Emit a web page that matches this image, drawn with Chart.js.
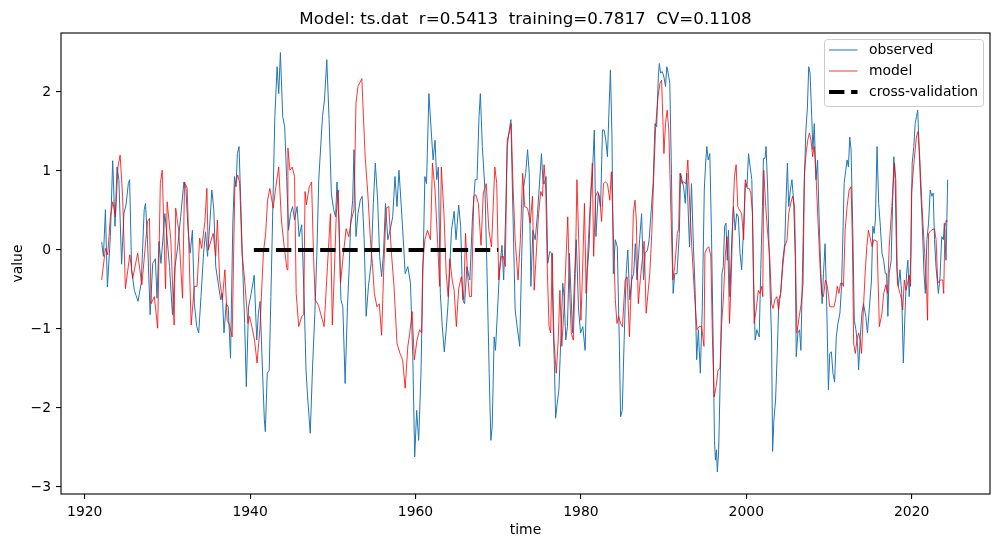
<!DOCTYPE html>
<html>
<head>
<meta charset="utf-8">
<script src="https://cdn.jsdelivr.net/npm/chart.js@4.4.1/dist/chart.umd.min.js"></script>
<style>
html, body { margin: 0; padding: 0; background: #fff; }
canvas { display: block; }
</style>
</head>
<body>
<canvas id="chart" width="999" height="547"></canvas>
<script>
// Observed series (time in decimal years, value)
const obsT = [
  1922.05,1922.26,1922.50,1922.74,1923.10,1923.38,1923.66,1923.90,1924.13,1924.46,
  1924.74,1924.99,1925.27,1925.43,1925.67,1926.00,1926.44,1926.83,1927.19,1927.35,
  1927.59,1927.91,1928.22,1928.54,1928.74,1928.98,1929.22,1929.69,1929.93,1930.25,
  1930.61,1930.92,1931.24,1931.60,1931.99,1932.23,1932.47,1932.75,1933.02,1933.26,
  1933.54,1933.78,1934.06,1934.37,1934.61,1934.85,
  1935.13,1935.37,1935.61,1935.84,1936.08,1936.44,1936.64,1936.84,1937.11,1937.35,
  1937.63,1937.91,1938.11,1938.30,1938.46,1938.66,1938.86,1939.10,1939.34,1939.54,
  1939.81,1940.13,1940.49,1940.80,1941.00,1941.20,1941.48,1941.72,1941.84,1942.07,
  1942.31,1942.51,1942.75,1942.99,1943.26,1943.46,1943.66,1943.94,1944.18,1944.41,
  1944.65,1944.89,1945.13,1945.37,1945.68,1945.92,1946.24,1946.56,1946.76,1946.95,
  1947.27,1947.55,1947.83,1948.07,1948.30,
  1948.75,1948.99,1949.27,1949.55,1949.82,1950.10,1950.34,1950.50,1950.74,1950.98,
  1951.21,1951.49,1951.77,1951.97,1952.16,1952.40,1952.56,1952.80,1953.04,1953.32,
  1953.55,1953.79,1954.03,1954.31,1954.63,1954.90,1955.14,1955.42,1955.66,1955.90,
  1956.13,1956.37,1956.65,1956.93,1957.24,1957.52,1957.76,1958.00,1958.28,1958.52,
  1958.75,1959.07,1959.39,1959.67,1959.90,1960.14,1960.38,1960.66,1960.89,1961.13,
  1961.33,1961.62,
  1961.97,1962.13,1962.36,1962.56,1962.76,1963.00,1963.24,1963.48,1963.71,1963.91,
  1964.11,1964.35,1964.67,1964.90,1965.22,1965.46,1965.70,1965.94,1966.21,1966.57,
  1966.89,1967.21,1967.44,1967.68,1967.84,1968.08,1968.40,1968.63,1968.91,1969.11,
  1969.27,1969.51,1969.67,1969.90,1970.18,1970.46,1970.66,1970.86,1971.09,1971.29,
  1971.53,1971.81,1972.05,1972.29,1972.60,1972.84,1973.08,1973.32,1973.55,1973.75,
  1973.95,1974.19,1974.47,1974.75,
  1975.23,1975.43,1975.59,1975.79,1975.99,1976.23,1976.46,1976.66,1976.82,1976.94,
  1977.14,1977.34,1977.57,1977.81,1977.97,1978.17,1978.37,1978.61,1978.80,1979.00,
  1979.24,1979.44,1979.72,1979.96,1980.23,1980.51,1980.75,1980.99,1981.23,1981.38,
  1981.62,1981.82,1982.10,1982.38,1982.61,1982.81,1983.01,1983.21,1983.41,1983.57,
  1983.76,1983.92,1984.16,1984.40,1984.64,1984.80,1985.00,1985.23,1985.47,1985.67,
  1985.91,1986.15,1986.38,1986.58,1986.78,1987.10,1987.34,1987.57,1987.77,1988.05,
  1988.25,
  1988.73,1988.96,1989.16,1989.36,1989.48,1989.64,1989.84,1990.04,1990.23,1990.39,
  1990.55,1990.75,1990.95,1991.15,1991.35,1991.62,1991.90,1992.06,1992.22,1992.42,
  1992.62,1992.81,1993.13,1993.37,1993.61,1993.81,1994.00,1994.20,1994.44,1994.68,
  1994.92,1995.08,1995.23,1995.39,1995.59,1995.79,1995.99,1996.15,1996.27,1996.39,
  1996.50,1996.66,1996.86,1997.06,1997.22,1997.38,1997.54,1997.70,1997.85,1998.01,
  1998.25,1998.45,1998.65,1998.84,1999.04,1999.24,1999.44,1999.68,1999.88,2000.08,
  2000.27,2000.47,2000.67,2000.87,2001.07,2001.27,
  2001.56,2001.75,2001.95,2002.07,2002.27,2002.39,2002.59,2002.75,2002.91,2003.06,
  2003.18,2003.34,2003.54,2003.74,2003.94,2004.17,2004.41,2004.65,2004.81,2004.97,
  2005.13,2005.33,2005.52,2005.72,2005.92,2006.04,2006.24,2006.44,2006.60,2006.79,
  2006.99,2007.19,2007.39,2007.55,2007.71,2007.91,2008.06,2008.22,2008.42,2008.62,
  2008.82,2009.02,2009.17,2009.33,2009.53,2009.73,2009.93,2010.09,2010.29,2010.48,
  2010.68,2010.88,2011.08,2011.32,2011.52,2011.71,2011.83,2012.03,2012.19,2012.35,
  2012.51,2012.67,2012.87,2013.06,2013.26,2013.46,2013.58,2013.78,2013.98,2014.17,
  2014.45,2014.65,
  2015.14,2015.30,2015.46,2015.61,2015.81,2016.01,2016.21,2016.41,2016.61,2016.81,
  2016.96,2017.12,2017.28,2017.52,2017.68,2017.84,2018.00,2018.19,2018.39,2018.59,
  2018.79,2018.99,2019.19,2019.38,2019.54,2019.70,2019.90,2020.06,2020.26,2020.42,
  2020.58,2020.73,2020.89,2021.09,2021.29,2021.49,2021.65,2021.84,2022.04,2022.24,
  2022.44,2022.60,2022.76,2022.94,2023.23,2023.43,2023.63,2023.83,2023.95,2024.15,
  2024.35
];
const obsV = [
  0.10,-0.08,0.51,-0.47,0.17,1.13,0.30,1.05,0.89,-0.18,
  0.46,0.57,0.84,0.89,-0.25,-0.51,-0.65,-0.42,0.51,0.59,
  0.13,-0.82,-0.17,-0.11,-0.61,0.11,-0.17,0.46,0.19,-0.21,
  -0.82,-0.21,0.04,0.42,0.86,0.78,0.30,-0.04,0.25,-0.68,
  -0.97,-1.05,-0.59,-0.04,0.23,-0.08,
  0.34,0.76,0.51,-0.21,-0.38,-0.63,-0.55,-1.05,-0.68,-0.72,
  -1.37,0.34,0.93,0.80,1.22,1.31,0.63,-0.21,-0.93,-1.73,
  -0.72,-0.55,-0.32,-1.14,-0.80,-0.65,-1.48,-2.15,-2.30,-1.56,
  -1.52,-0.59,0.55,1.69,2.32,1.98,2.50,1.69,1.56,0.93,
  0.25,0.46,0.55,0.38,0.55,0.17,0.32,-0.72,-1.52,-1.86,
  -2.32,-1.48,-0.80,-0.04,0.89,
  1.69,1.90,2.41,1.65,0.72,0.51,0.42,0.86,0.34,-0.63,
  -0.72,-1.69,-0.72,-0.25,0.34,0.63,1.27,0.17,0.46,0.63,
  0.68,0.13,-0.84,-0.46,-0.17,0.59,1.10,0.63,-0.08,-0.34,
  -0.04,0.59,0.13,0.25,0.42,0.93,0.55,1.01,0.55,0.13,
  -0.30,-0.21,-0.42,-1.35,-2.62,-2.03,-2.41,-1.56,-0.30,0.93,
  0.84,1.98,
  1.39,1.14,1.39,0.89,1.05,-0.55,-0.97,-1.29,-1.01,-0.72,
  -0.30,0.25,0.49,0.13,0.57,0.30,-0.63,-0.68,-0.21,-0.38,
  0.42,0.89,0.89,1.69,1.98,1.31,0.76,-0.21,-1.56,-2.41,
  -2.24,-1.10,-1.27,-0.80,-0.21,0.06,-0.38,0.30,1.31,1.48,
  1.65,0.34,-0.76,-0.97,-1.22,-0.08,0.80,0.97,1.27,0.97,
  -0.46,0.25,0.13,0.46,
  1.22,0.84,0.84,0.93,-0.17,-0.02,-0.04,-0.97,-1.56,-2.13,
  -1.94,-1.77,-1.14,-0.42,-0.59,-1.14,-0.97,-0.04,-0.55,-1.05,
  -0.30,0.13,-0.76,-1.05,-0.97,-1.27,-0.30,0.04,0.76,0.93,
  1.52,0.17,0.72,0.55,1.52,1.52,1.39,1.18,1.81,2.28,
  1.43,-0.30,0.13,0.04,-1.14,-2.11,-2.03,-1.14,-0.30,0.00,
  -0.63,-0.38,-0.30,0.08,-0.38,0.13,0.46,-0.38,-0.04,0.00,
  0.13,
  0.84,1.60,1.56,2.19,2.36,2.24,2.26,2.19,2.07,2.32,
  2.24,2.11,0.97,-0.55,-0.30,-0.30,0.21,0.97,0.89,0.80,
  0.59,0.97,0.04,0.84,0.04,-0.51,-1.39,-1.01,-1.56,-0.72,
  0.76,1.10,1.31,1.14,1.22,0.21,-1.14,-2.41,-2.66,-2.53,
  -2.81,-2.53,-1.56,-0.30,-0.21,0.30,0.34,-0.13,0.25,-0.59,
  0.13,0.55,0.25,0.46,0.42,-0.04,-0.25,0.30,0.84,0.80,
  1.22,1.05,0.89,-0.30,-1.14,-1.01,
  -1.10,-0.25,0.55,1.16,1.16,1.31,0.76,0.04,-0.63,-1.14,
  -2.55,-2.15,-1.90,-1.31,-0.63,-0.55,-0.13,0.08,0.63,1.10,
  0.55,0.76,0.89,0.63,-0.08,-1.35,-1.05,-1.01,-1.27,-0.30,
  0.76,1.48,1.81,2.32,2.24,1.69,1.27,1.60,0.89,1.14,
  0.34,-0.30,-0.68,-0.30,0.08,-0.72,-1.77,-1.31,-1.29,-1.56,
  -1.67,-1.10,-0.93,-0.80,-0.46,0.30,0.84,1.01,1.14,1.05,
  1.43,1.27,0.30,-0.89,-1.01,-1.22,-1.52,-1.10,-0.80,-0.68,
  -0.84,-1.05,
  -0.38,0.30,0.21,0.38,1.31,0.59,0.30,-0.04,-0.13,-0.30,
  -0.30,-0.84,-0.30,-0.13,0.55,1.18,0.89,-0.21,-0.46,-0.25,
  -0.55,-1.43,-0.80,-0.30,-0.13,-0.59,-0.08,1.10,1.31,1.60,
  1.69,1.77,1.31,0.76,0.30,-0.30,-0.55,0.13,0.34,0.76,
  0.68,0.72,0.13,-0.21,-0.55,-0.34,0.17,0.13,0.34,-0.13,
  0.89
];

// Model series
const modT = [
  1922.05,1922.50,1922.78,1923.10,1923.40,1923.72,1924.01,1924.28,1924.58,1924.92,
  1925.45,1925.80,1926.40,1926.91,1927.59,1927.83,1928.02,1928.42,1928.82,1929.14,
  1929.37,1929.77,1929.97,1930.41,1930.81,1931.00,1931.36,1931.83,1932.07,1932.39,
  1932.87,1933.26,1933.58,1933.90,1934.14,1934.53,1934.77,1934.93,
  1935.53,1935.84,1936.04,1936.32,1936.64,1936.95,1937.23,1937.51,1937.83,1938.15,
  1938.50,1938.74,1939.02,1939.34,1939.73,1939.93,1940.21,1940.53,1940.84,1941.20,
  1941.60,1941.88,1942.11,1942.39,1942.79,1943.11,1943.46,1943.78,1944.10,1944.46,
  1944.57,1944.81,1945.09,1945.37,1945.57,1945.88,1946.24,1946.48,1946.64,1946.80,
  1947.15,1947.43,1947.67,1947.87,1948.26,
  1948.95,1949.35,1949.71,1949.94,1950.18,1950.42,1950.66,1950.93,1951.25,1951.61,
  1951.93,1952.24,1952.56,1952.80,1953.04,1953.51,1953.91,1954.23,1954.55,1954.78,
  1955.02,1955.34,1955.62,1955.90,1956.17,1956.45,1956.77,1957.09,1957.40,1957.76,
  1958.12,1958.44,1958.75,1959.07,1959.31,1959.59,1959.86,1960.18,1960.50,1960.74,
  1960.86,1961.13,1961.45,
  1961.81,1962.05,1962.36,1962.68,1962.92,1963.12,1963.44,1963.71,1963.95,1964.15,
  1964.43,1964.67,1964.94,1965.22,1965.54,1965.82,1966.05,1966.29,1966.53,1966.77,
  1967.05,1967.29,1967.60,1967.92,1968.20,1968.55,1968.87,1969.19,1969.59,1969.82,
  1970.06,1970.38,1970.62,1970.86,1971.09,1971.41,1971.57,1971.81,1972.05,1972.40,
  1972.68,1972.96,1973.20,1973.55,1973.87,1974.15,1974.35,
  1974.88,1975.15,1975.35,1975.55,1975.75,1975.95,1976.15,1976.34,1976.54,1976.74,
  1977.02,1977.26,1977.46,1977.69,1977.97,1978.21,1978.41,1978.65,1978.84,1979.08,
  1979.32,1979.52,1979.76,1980.00,1980.19,1980.43,1980.63,1980.91,1981.15,1981.38,
  1981.54,1981.78,1982.02,1982.26,1982.50,1982.73,1982.97,1983.21,1983.49,1983.69,
  1983.92,1984.16,1984.36,1984.56,1984.80,1985.03,1985.35,1985.59,1985.87,1986.15,
  1986.34,1986.54,1986.70,1986.94,1987.18,1987.42,1987.65,1987.89,
  1988.33,1988.57,1988.85,1989.04,1989.32,1989.56,1989.76,1990.04,1990.23,1990.43,
  1990.63,1990.87,1991.11,1991.35,1991.66,1991.82,1991.98,1992.22,1992.42,1992.70,
  1992.93,1993.17,1993.41,1993.73,1994.04,1994.28,1994.60,1994.88,1995.00,1995.23,
  1995.47,1995.71,1995.91,1996.11,1996.35,1996.58,1996.82,1997.02,1997.22,1997.46,
  1997.66,1997.81,1997.97,1998.17,1998.37,1998.57,1998.77,1998.97,1999.16,1999.44,
  1999.68,1999.88,2000.12,2000.35,2000.55,2000.75,2000.95,2001.19,2001.46,
  2001.64,2001.87,2001.99,2002.11,2002.35,2002.59,2002.83,2003.06,2003.22,2003.46,
  2003.70,2003.90,2004.14,2004.41,2004.65,2004.93,2005.13,2005.37,2005.60,2005.84,
  2006.12,2006.40,2006.64,2006.87,2007.03,2007.23,2007.43,2007.63,2007.83,2008.02,
  2008.22,2008.42,2008.70,2008.94,2009.10,2009.33,2009.57,2009.81,2010.09,2010.37,
  2010.60,2010.80,2011.00,2011.20,2011.40,2011.60,2011.75,2011.95,2012.19,2012.43,
  2012.67,2012.83,2012.98,2013.18,2013.38,2013.58,2013.78,2013.94,2014.17,2014.37,
  2014.57,2014.77,
  2015.22,2015.42,2015.81,2016.09,2016.41,2016.61,2016.89,2017.08,2017.28,2017.60,
  2017.92,2018.08,2018.27,2018.59,2018.79,2018.91,2019.11,2019.31,2019.50,2019.70,
  2019.86,2019.98,2020.30,2020.57,2020.77,2020.97,2021.25,2021.57,2021.81,2021.92,
  2022.04,2022.36,2022.75,2022.95,2023.15,2023.47,2023.75,2023.87,2024.03,2024.19,
  2024.35
];
const modV = [
  -0.38,0.02,-0.06,0.42,0.61,0.42,1.05,1.20,0.68,-0.49,
  -0.06,-0.36,-0.04,-0.44,0.36,0.40,-0.68,-0.59,-0.99,0.84,
  1.01,-0.49,0.61,0.13,-0.95,0.53,0.25,-0.61,0.86,0.78,
  -0.95,-0.46,-0.46,0.15,0.02,0.36,0.78,0.00,
  0.21,-0.08,0.38,-0.38,-0.63,-0.25,-0.89,-0.95,-1.10,0.80,
  0.95,0.84,-0.04,-0.38,-0.93,-0.84,-0.97,-1.14,-1.43,-0.97,
  -0.04,0.21,0.63,0.78,0.53,0.80,1.05,0.38,0.06,-0.25,
  1.29,1.01,1.05,0.93,-0.55,-0.97,-0.84,-0.82,0.74,0.57,
  0.80,0.86,-0.08,-0.63,-0.70,
  -0.97,-0.21,0.46,-0.95,-0.30,0.46,0.76,-0.42,-0.08,0.27,
  0.17,0.38,0.51,1.86,2.07,2.17,1.18,0.72,0.13,-0.17,
  -0.55,-0.72,-0.68,-1.08,-0.21,0.53,0.55,-0.04,-0.46,-1.18,
  -1.31,-1.39,-1.75,-1.22,-1.05,-0.78,-1.39,-1.14,-1.01,-1.05,
  -0.21,0.13,0.25,
  0.13,1.10,0.76,0.08,-0.46,1.05,0.46,-0.30,-0.59,-0.11,
  -0.38,-0.51,-0.97,-0.49,-0.34,-0.63,0.21,-0.30,-0.59,-0.59,
  0.68,0.70,0.59,0.06,0.72,0.84,0.25,0.04,1.05,0.84,
  -0.38,-0.08,-0.08,-0.21,1.39,1.52,1.60,0.76,0.13,-0.38,
  0.13,0.97,0.55,0.53,0.34,0.68,-0.51,
  0.46,0.74,0.68,1.08,0.76,-0.30,-0.97,-1.05,-0.04,-1.14,
  -1.56,-1.14,-0.51,-1.22,-0.72,-0.08,0.42,-0.55,-1.05,-1.14,
  -0.30,0.89,0.04,-0.89,-0.30,0.59,-0.55,0.13,0.63,1.10,
  -0.08,0.68,0.74,0.68,0.36,0.84,0.86,0.84,0.63,0.99,
  0.21,-0.63,-0.93,-0.84,-0.93,-0.97,-0.38,-0.34,-1.10,-0.30,
  0.46,0.63,0.38,-0.68,-0.38,-0.13,0.11,-0.80,
  -0.30,0.21,1.05,1.56,1.94,2.11,2.15,1.22,1.60,1.77,
  1.52,0.55,-0.38,-0.21,0.21,0.27,0.97,0.84,0.86,0.84,
  1.14,0.55,0.04,-0.55,-1.01,-0.97,-0.97,-1.22,-0.04,0.02,
  0.04,-0.08,-1.14,-1.86,-1.73,-1.52,-1.50,-0.93,-0.63,-0.08,
  0.17,-0.13,-0.93,-0.38,0.42,0.93,1.08,0.55,0.51,0.46,
  0.13,0.89,0.78,0.78,0.72,0.46,-0.93,-0.76,-0.51,
  -0.55,-0.46,-0.59,1.01,0.55,0.21,-0.08,-0.68,-0.74,-0.63,
  -0.59,-0.76,-0.55,-0.21,0.04,0.13,0.46,0.59,0.68,0.55,
  -1.05,-0.84,-0.68,-0.42,0.97,1.22,1.39,1.48,1.39,1.18,
  1.31,0.97,0.30,-0.25,-0.55,-0.59,-0.38,-0.46,-0.72,-0.72,
  -0.72,-0.63,-0.46,-0.55,-0.42,-0.42,-0.46,0.25,0.55,0.76,
  0.80,0.13,-1.18,-1.31,-1.14,-1.05,-1.14,-1.31,-0.72,-0.30,
  0.04,0.25,
  0.04,0.13,0.11,-0.97,-0.80,-0.55,-0.44,-0.55,0.04,0.55,
  1.10,0.89,-0.42,-0.55,-0.63,-0.76,-0.38,-0.51,-0.42,-0.32,
  -0.46,0.72,1.14,1.43,1.50,1.18,0.55,-0.04,-0.51,-0.89,
  0.21,0.25,0.27,0.13,-0.42,-0.38,-0.38,-0.55,0.30,0.38,
  0.36
];

// Cross-validation period
const cvT = [1940.45, 1970.0];
const cvV = [0, 0];

const xTicks = [1920, 1940, 1960, 1980, 2000, 2020];
const yTicks = [-3, -2, -1, 0, 1, 2];

const titleText = 'Model: ts.dat  r=0.5413  training=0.7817  CV=0.1108';

function pts(t, v) {
    const n = Math.min(t.length, v.length);
    const out = [];
    for (let i = 0; i < n; i++) out.push({ x: t[i], y: v[i] });
    return out;
}

Chart.defaults.font.family = "'DejaVu Sans', sans-serif";
Chart.defaults.color = '#000';

// spines, title, axis labels and legend drawn like matplotlib
const decorations = {
    id: 'decorations',
    afterDatasetsDraw(chart) {
        const { ctx, chartArea: a } = chart;
        ctx.save();
        ctx.strokeStyle = '#000';
        ctx.lineWidth = 1.1;
        ctx.strokeRect(a.left, a.top, a.right - a.left, a.bottom - a.top);
        ctx.restore();
    },
    afterDraw(chart) {
        const { ctx, chartArea: a } = chart;
        const cx = (a.left + a.right) / 2;
        ctx.save();
        ctx.fillStyle = '#000';

        ctx.font = "16.7px 'DejaVu Sans'";
        ctx.textAlign = 'center';
        ctx.textBaseline = 'alphabetic';
        ctx.fillText(titleText, cx, 24);

        ctx.font = "13.9px 'DejaVu Sans'";
        ctx.fillText('time', cx, 534);

        ctx.save();
        ctx.translate(22, (a.top + a.bottom) / 2);
        ctx.rotate(-Math.PI / 2);
        ctx.fillText('value', 0, 0);
        ctx.restore();

        // legend
        const bx = 824.5, by = 39.5, bw = 159, bh = 67;
        ctx.beginPath();
        ctx.roundRect(bx, by, bw, bh, 3);
        ctx.fillStyle = 'rgba(255,255,255,0.8)';
        ctx.fill();
        ctx.strokeStyle = '#cccccc';
        ctx.lineWidth = 1;
        ctx.stroke();

        const rows = [50, 71, 92];
        chart.data.datasets.forEach((ds, i) => {
            const y = rows[i];
            ctx.beginPath();
            ctx.setLineDash(ds.borderDash || []);
            ctx.strokeStyle = ds.borderColor;
            ctx.lineWidth = ds.borderWidth;
            ctx.lineCap = 'butt';
            ctx.moveTo(829, y);
            ctx.lineTo(857.5, y);
            ctx.stroke();
            ctx.setLineDash([]);
            ctx.fillStyle = '#000';
            ctx.textAlign = 'left';
            ctx.textBaseline = 'middle';
            ctx.fillText(ds.label, 869, y);
        });
        ctx.restore();
    }
};

new Chart(document.getElementById('chart'), {
    type: 'line',
    data: {
        datasets: [
            {
                label: 'observed',
                data: pts(obsT, obsV),
                borderColor: '#1f77b4',
                borderWidth: 1,
                order: 3
            },
            {
                label: 'model',
                data: pts(modT, modV),
                borderColor: '#ff0000',
                borderWidth: 0.8,
                order: 2
            },
            {
                label: 'cross-validation',
                data: pts(cvT, cvV),
                borderColor: '#000000',
                borderWidth: 4.2,
                borderDash: [15.4, 6.7],
                order: 1
            }
        ]
    },
    options: {
        responsive: false,
        animation: false,
        events: [],
        layout: { padding: { top: 33, right: 9, left: 0, bottom: 0 } },
        elements: {
            point: { radius: 0 },
            line: { tension: 0, fill: false, borderCapStyle: 'butt', borderJoinStyle: 'round' }
        },
        plugins: {
            legend: { display: false },
            tooltip: { enabled: false }
        },
        scales: {
            x: {
                type: 'linear',
                min: 1917.13,
                max: 2029.47,
                afterBuildTicks: s => { s.ticks = xTicks.map(v => ({ value: v })); },
                afterFit: s => { s.height = 53; },
                grid: { display: true, drawOnChartArea: false, drawTicks: true, tickLength: 5, color: '#000', lineWidth: 1.1 },
                border: { display: false },
                ticks: {
                    color: '#000',
                    font: { size: 13.9 },
                    padding: 5,
                    maxRotation: 0,
                    autoSkip: false,
                    callback: v => String(v)
                }
            },
            y: {
                type: 'linear',
                min: -3.089,
                max: 2.747,
                afterBuildTicks: s => { s.ticks = yTicks.map(v => ({ value: v })); },
                afterFit: s => { s.width = 61; },
                grid: { display: true, drawOnChartArea: false, drawTicks: true, tickLength: 5, color: '#000', lineWidth: 1.1 },
                border: { display: false },
                ticks: {
                    color: '#000',
                    font: { size: 13.9 },
                    padding: 5,
                    autoSkip: false,
                    callback: v => (v < 0 ? '\u2212' + Math.abs(v) : String(v))
                }
            }
        }
    },
    plugins: [decorations]
});
</script>
</body>
</html>
